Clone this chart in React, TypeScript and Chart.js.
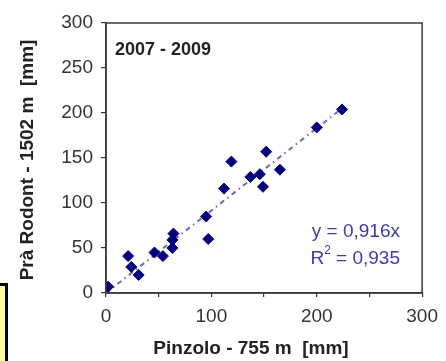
import React, { useEffect, useRef } from "react";
import { Chart, registerables } from "chart.js";

Chart.register(...registerables);

// Pinzolo (x) vs Prà Rodont (y), mm
const pinzoloValues = [2, 21, 24, 31, 46, 54, 63, 63, 64, 95, 97, 112, 119, 137, 146, 149, 152, 165, 200, 224];
const pradRodontValues = [7, 41, 29, 20, 45, 41, 50, 59, 66, 85, 60, 116, 146, 129, 132, 118, 157, 137, 184, 204];
const trendSlope = 0.916;
const trendRangeX = [0, 224];
const axisTicks = [0, 50, 100, 150, 200, 250, 300];
const xLabeledTicks = [0, 100, 200, 300];
const periodLabel = "2007 - 2009";
const equationLabel = "y = 0,916x";
const r2Prefix = "R";
const r2Sup = "2";
const r2Rest = " = 0,935";
const xTitle = "Pinzolo - 755 m  [mm]";
const yTitle = "Prà Rodont - 1502 m  [mm]";

const FONT = "'Liberation Sans', Arial, sans-serif";

const overlayPlugin = {
  id: "overlay",
  afterDraw(chart: any) {
    const { ctx, chartArea } = chart;
    const { left, right, top, bottom } = chartArea;
    ctx.save();
    // frame
    ctx.strokeStyle = "#3a3a3a";
    ctx.lineWidth = 1.5;
    ctx.strokeRect(left, top, right - left, bottom - top);

    // period label
    ctx.fillStyle = "#222222";
    ctx.font = `bold 18px ${FONT}`;
    ctx.textAlign = "left";
    ctx.textBaseline = "middle";
    ctx.fillText(periodLabel, left + 9, top + 27);

    // equation
    const eqColor = "#3b3bb5";
    const eqRight = left + 294;
    ctx.fillStyle = eqColor;
    ctx.font = `19px ${FONT}`;
    ctx.textAlign = "right";
    ctx.fillText(equationLabel, eqRight, top + 209);
    // R^2 line
    ctx.textAlign = "left";
    const restW = ctx.measureText(r2Rest).width;
    const rW = ctx.measureText(r2Prefix).width;
    ctx.font = `12px ${FONT}`;
    const supW = ctx.measureText(r2Sup).width;
    const startX = eqRight - restW - supW - rW;
    const y2 = top + 236;
    ctx.font = `19px ${FONT}`;
    ctx.fillText(r2Prefix, startX, y2);
    ctx.font = `12px ${FONT}`;
    ctx.fillText(r2Sup, startX + rW, y2 - 8);
    ctx.font = `19px ${FONT}`;
    ctx.fillText(r2Rest, startX + rW + supW, y2);

    // axis titles
    ctx.fillStyle = "#222222";
    ctx.font = `bold 19px ${FONT}`;
    ctx.textAlign = "center";
    ctx.fillText(xTitle, 251, 349);
    ctx.save();
    ctx.translate(28, 160);
    ctx.rotate(-Math.PI / 2);
    ctx.fillText(yTitle, 0, 0);
    ctx.restore();

    // yellow box (cropped, bottom-left)
    ctx.fillStyle = "#ffff99";
    ctx.fillRect(-10, 284.5, 16.5, 90);
    ctx.strokeStyle = "#000000";
    ctx.lineWidth = 3;
    ctx.strokeRect(-10, 284.5, 16.5, 90);
    ctx.restore();
  },
};

export default function App() {
  const canvasRef = useRef<HTMLCanvasElement | null>(null);

  useEffect(() => {
    const canvas = canvasRef.current;
    if (!canvas) return;
    const points = pinzoloValues.map((x, i) => ({ x, y: pradRodontValues[i] }));
    const trend = trendRangeX.map((x) => ({ x, y: trendSlope * x }));
    const chart = new Chart(canvas, {
      type: "scatter",
      data: {
        datasets: [
          {
            label: "data",
            data: points,
            pointStyle: "rectRot",
            pointRadius: 5.5,
            pointHoverRadius: 5.5,
            backgroundColor: "#000080",
            borderColor: "#000080",
            borderWidth: 1,
            order: 0,
          },
          {
            label: "trend",
            type: "line",
            data: trend,
            showLine: true,
            pointRadius: 0,
            borderColor: "#6a6ab8",
            borderWidth: 2,
            borderDash: [5, 4, 1.5, 4],
            fill: false,
            order: 1,
          } as any,
        ],
      },
      options: {
        animation: false,
        responsive: true,
        maintainAspectRatio: false,
        layout: { padding: { left: 0, top: 23, right: 19, bottom: 0 } },
        plugins: { legend: { display: false }, tooltip: { enabled: false }, title: { display: false } },
        scales: {
          x: {
            type: "linear",
            min: 0,
            max: 300,
            afterBuildTicks: (scale: any) => {
              scale.ticks = axisTicks.map((v) => ({ value: v }));
            },
            afterFit: (scale: any) => {
              scale.height = 68;
            },
            ticks: {
              font: { family: FONT, size: 19 },
              color: "#333333",
              padding: 8,
              maxRotation: 0,
              callback: (v: any) => (xLabeledTicks.includes(Number(v)) ? String(v) : ""),
            },
            grid: { drawOnChartArea: false, drawTicks: true, tickLength: 4, color: "#333333", lineWidth: 1.2 },
            border: { display: true, color: "#3a3a3a", width: 1.5 },
          },
          y: {
            type: "linear",
            min: 0,
            max: 300,
            afterBuildTicks: (scale: any) => {
              scale.ticks = axisTicks.map((v) => ({ value: v }));
            },
            afterFit: (scale: any) => {
              scale.width = 106;
            },
            ticks: {
              font: { family: FONT, size: 19 },
              color: "#333333",
              padding: 8,
              callback: (v: any) => String(v),
            },
            grid: { drawOnChartArea: false, drawTicks: true, tickLength: 5, color: "#333333", lineWidth: 1.2 },
            border: { display: true, color: "#3a3a3a", width: 1.5 },
          },
        },
      },
      plugins: [overlayPlugin],
    });
    return () => chart.destroy();
  }, []);

  return (
    <div style={{ position: "fixed", left: 0, top: 0, width: 446, height: 361, background: "#ffffff" }}>
      <canvas ref={canvasRef} />
    </div>
  );
}
